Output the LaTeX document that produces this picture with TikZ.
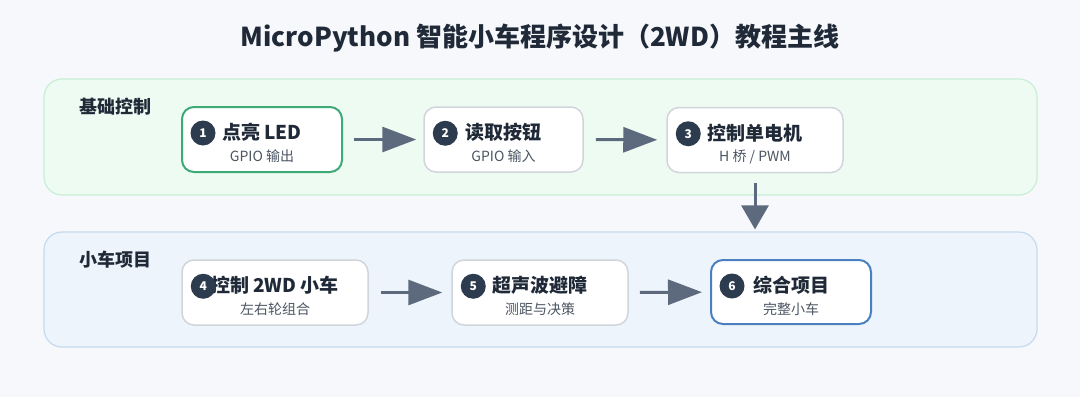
\documentclass[tikz,border=0pt]{standalone}
\usepackage{fontspec}
\setmainfont{Noto Sans CJK SC}
\usepackage{tikz}
\usetikzlibrary{arrows.meta}

\definecolor{bgcol}{HTML}{F6F8FB}
\definecolor{inkcol}{HTML}{1F2937}
\definecolor{subcol}{HTML}{4B5563}
\definecolor{greenfill}{HTML}{EEFBF2}
\definecolor{greenline}{HTML}{C9EED6}
\definecolor{bluefill}{HTML}{EDF4FB}
\definecolor{blueline}{HTML}{C6DAEE}
\definecolor{greenedge}{HTML}{3DAA78}
\definecolor{blueedge}{HTML}{4A7FC0}
\definecolor{greyedge}{HTML}{D0D5DC}
\definecolor{badgecol}{HTML}{2D3B4E}
\definecolor{arrowcol}{HTML}{5D6A7E}

\tikzset{
  panel/.style={draw, line width=1.2pt, rounded corners=18pt, inner sep=0pt},
  lesson/.style={draw=greyedge, fill=white, line width=1.5pt, rounded corners=12pt,
    minimum height=65pt, inner sep=0pt},
  badge/.style={circle, fill=badgecol, text=white, minimum size=25pt, inner sep=0pt,
    font=\bfseries\fontsize{12}{12}\selectfont},
  headtext/.style={text=inkcol, font=\bfseries\fontsize{19}{22}\selectfont},
  subtext/.style={text=subcol, font=\fontsize{14}{16}\selectfont},
  grouptext/.style={text=inkcol, font=\bfseries\fontsize{18}{20}\selectfont},
  flow/.style={draw=arrowcol, line width=3pt, -{Triangle[length=34pt,width=25pt]}}
}

\begin{document}
\begin{tikzpicture}[x=1pt, y=-1pt]
	\fill [bgcol] (0,0) rectangle (1080,397);
	\useasboundingbox (0,0) rectangle (1080,397);
	% title
	\node [text=inkcol, font=\bfseries\fontsize{26}{30}\selectfont] (title) at (540,38)
		{MicroPython 智能小车程序设计（2WD）教程主线};
	% panels
	\node [panel, draw=greenline, fill=greenfill, minimum width=993pt, minimum height=116pt]
		(basic) at (540.5,137) {};
	\node [panel, draw=blueline, fill=bluefill, minimum width=993pt, minimum height=115pt]
		(car) at (540.5,289.5) {};
	\node [grouptext] (basiclbl) at (115,107) {基础控制};
	\node [grouptext] (carlbl) at (115,260) {小车项目};
	% lessons
	\node [lesson, draw=greenedge, line width=2pt, minimum width=160pt] (b1) at (262,139.5) {};
	\node [lesson, minimum width=159pt] (b2) at (503.5,139.5) {};
	\node [lesson, minimum width=176pt] (b3) at (755,140) {};
	\node [lesson, minimum width=186pt] (b4) at (275,292.5) {};
	\node [lesson, minimum width=176pt] (b5) at (540,292.5) {};
	\node [lesson, draw=blueedge, line width=2pt, minimum width=160pt, minimum height=64pt] (b6) at (791,292) {};
	% texts
	\foreach \b/\n/\head/\sub in {b1/1/点亮 LED/GPIO 输出, b2/2/读取按钮/GPIO 输入,
		b3/3/控制单电机/{H 桥 / PWM}, b4/4/控制 2WD 小车/左右轮组合,
		b5/5/超声波避障/测距与决策, b6/6/综合项目/完整小车}{
		\node [headtext] (\b head) at ([yshift=-26pt]\b.north) {\head};
		\node [subtext] (\b sub) at ([yshift=-50pt]\b.north) {\sub};
		\node [badge] (\b badge) at ([xshift=22pt,yshift=-27pt]\b.north west) {\n};
	}
	% arrows
	\draw [flow, shorten <=11pt, shorten >=7pt] (b1) -- (b2);
	\draw [flow, shorten <=12pt, shorten >=9pt] (b2) -- (b3);
	\draw [flow, shorten <=12pt, shorten >=9pt] (b4) -- (b5);
	\draw [flow, shorten <=11pt, shorten >=8pt] (b5) -- (b6);
	\draw [flow, -{Triangle[length=24pt,width=27pt]}, shorten <=10pt, shorten >=2pt]
		(b3.south) -- (b3.south |- car.north);
\end{tikzpicture}
\end{document}
